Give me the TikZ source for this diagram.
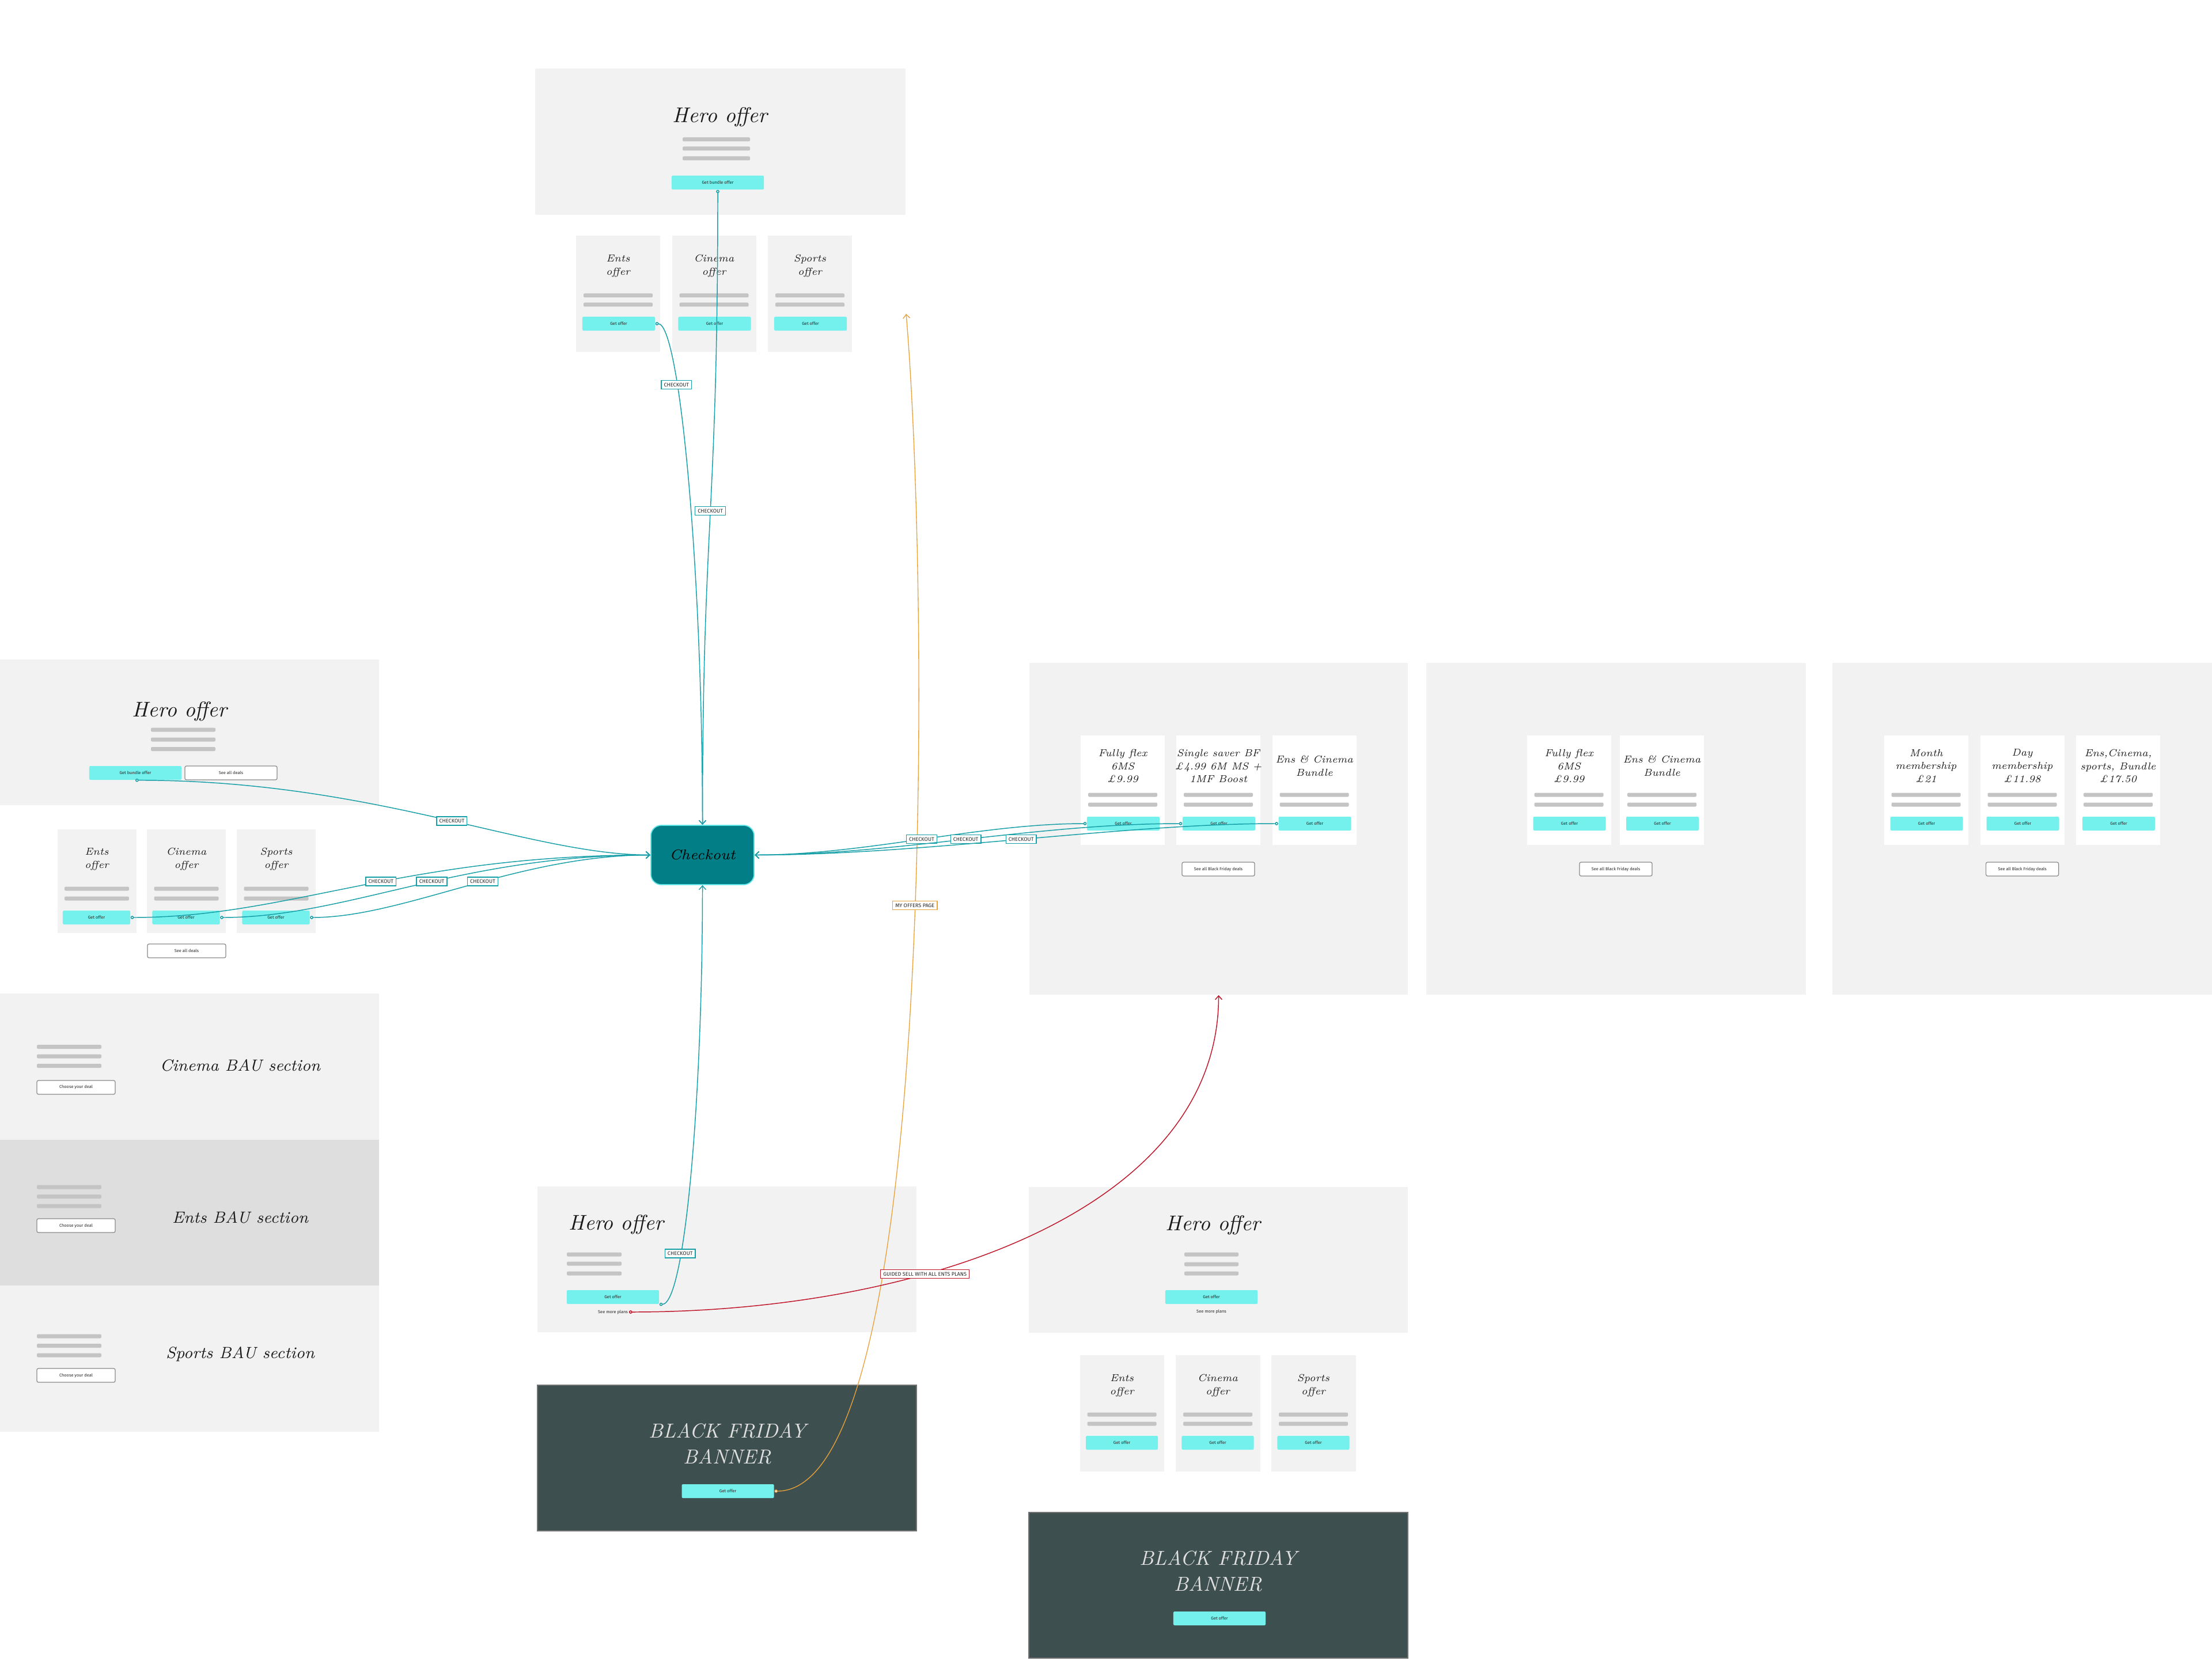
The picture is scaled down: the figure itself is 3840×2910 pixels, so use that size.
\documentclass[tikz,border=0pt]{standalone}
\usepackage{fontspec}
\setsansfont{Fira Sans}
\usetikzlibrary{arrows.meta}
\definecolor{panelgray}{HTML}{F2F2F2}
\definecolor{bauents}{HTML}{DEDEDE}
\definecolor{bargray}{HTML}{C4C4C4}
\definecolor{btncyan}{HTML}{74F1EC}
\definecolor{chkteal}{HTML}{017E86}
\definecolor{chkrim}{HTML}{62E6E8}
\definecolor{flowteal}{HTML}{179FA8}
\definecolor{offerorange}{HTML}{E9A23B}
\definecolor{guidered}{HTML}{C0162A}
\definecolor{bfdark}{HTML}{3D4F4E}
\definecolor{ghostline}{HTML}{8A8A8A}

\tikzset{
  panel/.style={fill=panelgray, draw=none, inner sep=0},
  bar/.style={fill=bargray, rounded corners=0.6pt},
  btn/.style={fill=btncyan, rounded corners=0.6pt, inner sep=0, minimum height=0.24cm, minimum width=#1,
    font=\sffamily\fontsize{2.1}{2.5}\selectfont, text=black!85},
  btn/.default=1.6cm,
  ghost/.style={draw=ghostline, line width=0.35pt, fill=white, rounded corners=0.8pt, inner sep=0,
    minimum height=0.24cm, minimum width=#1, font=\sffamily\fontsize{2.1}{2.5}\selectfont, text=black!85},
  ghost/.default=1.6cm,
  plain/.style={inner sep=0.4pt, font=\sffamily\fontsize{2.1}{2.5}\selectfont, text=black!85},
  handbig/.style={font=\itshape\fontsize{10.5}{12}\selectfont, inner sep=0, text=black!90},
  handcard/.style={font=\itshape\fontsize{5}{6.5}\selectfont, align=center, inner sep=0, text=black!90},
  handbau/.style={font=\itshape\fontsize{8}{9.6}\selectfont, inner sep=0, text=black!90},
  handbf/.style={font=\itshape\fontsize{10}{12.8}\selectfont, align=center, inner sep=0, text=white!88!black},
  chknode/.style={fill=chkteal, draw=chkrim, line width=0.5pt, rounded corners=0.18cm, minimum width=1.79cm,
    minimum height=1.03cm, inner sep=0, font=\itshape\fontsize{7}{8}\selectfont, text=black},
  tag/.style={draw=#1, fill=white, line width=0.4pt, inner xsep=1.3pt, inner ysep=0.4pt, minimum height=0.15cm,
    font=\sffamily\fontsize{2.6}{3}\selectfont, text=black!85},
  tag/.default=flowteal,
  flow/.style={draw=#1, line width=0.42pt, {Circle[open,fill=white,length=1.6pt]}-{Straight Barb[length=1.9pt,width=3.4pt]}},
  flow/.default=flowteal
}

\begin{document}
\begin{tikzpicture}[x=0.01cm, y=-0.01cm]
  \useasboundingbox (0,0) rectangle (3840,2910);

  % top hero with its three offers
  \fill[panelgray] (929,119) rectangle (1572,373);
  \node [handbig] (thtitle) at (1250,203) {Hero offer};
  \foreach \y in {242,258,275} \fill[bar] (1185,\y-3.5) rectangle (1302,\y+3.5);
  \node [btn] (tbund) at (1246,317) {Get bundle offer};
  \foreach \x/\ttl/\nm in {1000/Ents/tents, 1166.5/Cinema/tcine, 1333/Sports/tsport} {
    \fill[panelgray] (\x,409) rectangle (\x+146,611);
    \node [handcard] (\nm-t) at (\x+73,462) {\ttl\\offer};
    \foreach \y in {513,529} \fill[bar] (\x+13,\y-3.5) rectangle (\x+133,\y+3.5);
    \node [btn=1.26cm] (\nm) at (\x+74,562) {Get offer};
  }

  % left hero with its three offers
  \fill[panelgray] (0,1145) rectangle (658,1398);
  \node [handbig] (lhtitle) at (312,1235) {Hero offer};
  \foreach \y in {1267,1284,1300.5} \fill[bar] (262,\y-3.5) rectangle (374,\y+3.5);
  \node [btn] (lbund) at (235,1342) {Get bundle offer};
  \node [ghost] (ldeals) at (401,1342) {See all deals};
  \foreach \x/\ttl/\nm in {99.5/Ents/lents, 255/Cinema/lcine, 411/Sports/lsport} {
    \fill[panelgray] (\x,1440) rectangle (\x+137,1620);
    \node [handcard] (\nm-t) at (\x+68.5,1492) {\ttl\\offer};
    \foreach \y in {1543,1560} \fill[bar] (\x+12.5,\y-3.5) rectangle (\x+124.5,\y+3.5);
    \node [btn=1.17cm] (\nm) at (\x+68,1593) {Get offer};
  }
  \node [ghost=1.36cm] (lmore) at (324,1651) {See all deals};

  % BAU sections
  \foreach \ttl/\col/\ya/\yb/\by/\cy/\ty/\nm in {Cinema/panelgray/1725/1979/1817.5/1888/1850/bcine,
      Ents/bauents/1979/2232/2061/2128/2114/bents, Sports/panelgray/2232/2486/2320/2388/2351/bsport} {
    \fill[\col] (0,\ya) rectangle (658,\yb);
    \foreach \d in {0,16.5,33} \fill[bar] (64,\by+\d-3.5) rectangle (176,\by+\d+3.5);
    \node [ghost=1.36cm] (\nm) at (132,\cy) {Choose your deal};
    \node [handbau] (\nm-t) at (417,\ty) {\ttl\ BAU section};
  }

  \node [chknode] (chk) at (1219.5,1484.5) {Checkout};

  % black friday deals, first box
  \node [panel, minimum width=6.57cm, minimum height=5.76cm] (bfbox) at (2115.5,1439) {};
  \foreach \x/\ttl/\nm in {1876/{Fully flex\\6MS\\£9.99}/rflex, 2042/{Single saver BF\\£4.99 6M MS +\\1MF Boost}/rsing,
      2208.6/{Ens \& Cinema\\Bundle}/rens} {
    \fill[white] (\x,1277) rectangle (\x+146.4,1467);
    \node [handcard] (\nm-t) at (\x+73,1330) {\ttl};
    \foreach \y in {1380,1397} \fill[bar] (\x+13,\y-3.5) rectangle (\x+133,\y+3.5);
    \node [btn=1.26cm] (\nm) at (\x+74,1430) {Get offer};
  }
  \node [ghost=1.26cm] (bfall) at (2115,1509) {See all Black Friday deals};

  % second box
  \fill[panelgray] (2476,1151) rectangle (3135,1727);
  \foreach \x/\ttl/\nm in {2650.6/{Fully flex\\6MS\\£9.99}/fflex, 2812/{Ens \& Cinema\\Bundle}/fens} {
    \fill[white] (\x,1277) rectangle (\x+146.4,1467);
    \node [handcard] (\nm-t) at (\x+73,1330) {\ttl};
    \foreach \y in {1380,1397} \fill[bar] (\x+13,\y-3.5) rectangle (\x+133,\y+3.5);
    \node [btn=1.26cm] (\nm) at (\x+74,1430) {Get offer};
  }
  \node [ghost=1.26cm] (fall) at (2805,1509) {See all Black Friday deals};

  % third box
  \fill[panelgray] (3181,1151) rectangle (3840,1727);
  \foreach \x/\ttl/\nm in {3270.6/{Month\\membership\\£21}/mmonth, 3437.5/{Day\\membership\\£11.98}/mday,
      3604/{Ens,Cinema,\\sports, Bundle\\£17.50}/mall} {
    \fill[white] (\x,1277) rectangle (\x+146.4,1467);
    \node [handcard] (\nm-t) at (\x+73,1330) {\ttl};
    \foreach \y in {1380,1397} \fill[bar] (\x+13,\y-3.5) rectangle (\x+133,\y+3.5);
    \node [btn=1.26cm] (\nm) at (\x+74,1430) {Get offer};
  }
  \node [ghost=1.26cm] (mall-b) at (3510.6,1509) {See all Black Friday deals};

  % bottom hero and banner
  \fill[panelgray] (933,2060) rectangle (1591,2313);
  \node [handbig, anchor=west] (bhtitle) at (987,2126) {Hero offer};
  \foreach \y in {2178,2194,2211} \fill[bar] (984,\y-3.5) rectangle (1079,\y+3.5);
  \node [btn] (bget) at (1064,2252) {Get offer};
  \node [plain] (bmore) at (1064,2278) {See more plans};
  \filldraw[fill=bfdark, draw=black!55, line width=0.4pt] (933,2405) rectangle (1591,2658);
  \node [handbf] (bftitle) at (1263,2507) {BLACK FRIDAY\\BANNER};
  \node [btn] (bfget) at (1263.6,2589) {Get offer};

  % bottom right hero, offers and banner
  \fill[panelgray] (1786,2061) rectangle (2444,2314);
  \node [handbig] (rhtitle) at (2106,2127) {Hero offer};
  \foreach \y in {2178,2195,2211} \fill[bar] (2056,\y-3.5) rectangle (2150,\y+3.5);
  \node [btn] (rget) at (2103,2252) {Get offer};
  \node [plain] (rmore) at (2103,2277.5) {See more plans};
  \foreach \x/\ttl/\nm in {1874.6/Ents/rents, 2041/Cinema/rcine, 2207/Sports/rsport} {
    \fill[panelgray] (\x,2352.6) rectangle (\x+146.5,2554.5);
    \node [handcard] (\nm-t) at (\x+73,2405.5) {\ttl\\offer};
    \foreach \y in {2456,2472} \fill[bar] (\x+13,\y-3.5) rectangle (\x+133,\y+3.5);
    \node [btn=1.25cm] (\nm) at (\x+73,2505) {Get offer};
  }
  \filldraw[fill=bfdark, draw=black!55, line width=0.4pt] (1786,2626) rectangle (2444,2879);
  \node [handbf] (rbftitle) at (2115,2728) {BLACK FRIDAY\\BANNER};
  \node [btn] (rbfget) at (2117,2810) {Get offer};

  % flows
  \coordinate (offers) at (1573,545);
  \draw[flow=offerorange, line width=0.38pt] (bfget.east) .. controls +(286,0) and +(39,455) .. (offers)
    node [tag=offerorange, pos=.56] (tagoffers) {MY OFFERS PAGE};
  \draw[flow] (tbund.south) .. controls +(0,571) and +(0,-533) .. (chk.north)
    node [tag, pos=.49] (tagtop) {CHECKOUT};
  \draw[flow] (tents.east) .. controls +(43,0) and +(0,-433) .. (chk.north)
    node [tag, pos=.3] (tagtents) {CHECKOUT};
  \draw[flow] (lbund.south) .. controls +(415,0) and +(-211,0) .. (chk.west)
    node [tag, pos=.53] (taglbund) {CHECKOUT};
  \draw[flow] (lents.east) .. controls +(274,0) and +(-430,0) .. (chk.west)
    node [tag, pos=.55] (taglents) {CHECKOUT};
  \draw[flow] (lcine.east) .. controls +(218,0) and +(-330,0) .. (chk.west)
    node [tag, pos=.55] (taglcine) {CHECKOUT};
  \draw[flow] (lsport.east) .. controls +(162,0) and +(-230,0) .. (chk.west)
    node [tag, pos=.55] (taglsport) {CHECKOUT};
  \draw[flow] (rflex.west) .. controls +(-186,0) and +(191,0) .. (chk.east)
    node [tag, pos=.5] (tagrflex) {CHECKOUT};
  \draw[flow] (rsing.west) .. controls +(-253,0) and +(241,0) .. (chk.east)
    node [tag, pos=.5] (tagrsing) {CHECKOUT};
  \draw[flow] (rens.west) .. controls +(-269,0) and +(291,0) .. (chk.east)
    node [tag, pos=.5] (tagrens) {CHECKOUT};
  \draw[flow] (bget.south east) .. controls +(45,0) and +(0,364) .. (chk.south)
    node [tag, pos=.3] (tagbget) {CHECKOUT};
  \draw[flow=guidered] (bmore.east) .. controls +(508,0) and +(0,373) .. (bfbox.south)
    node [tag=guidered, pos=.35] (tagguided) {GUIDED SELL WITH ALL ENTS PLANS};
\end{tikzpicture}
\end{document}
